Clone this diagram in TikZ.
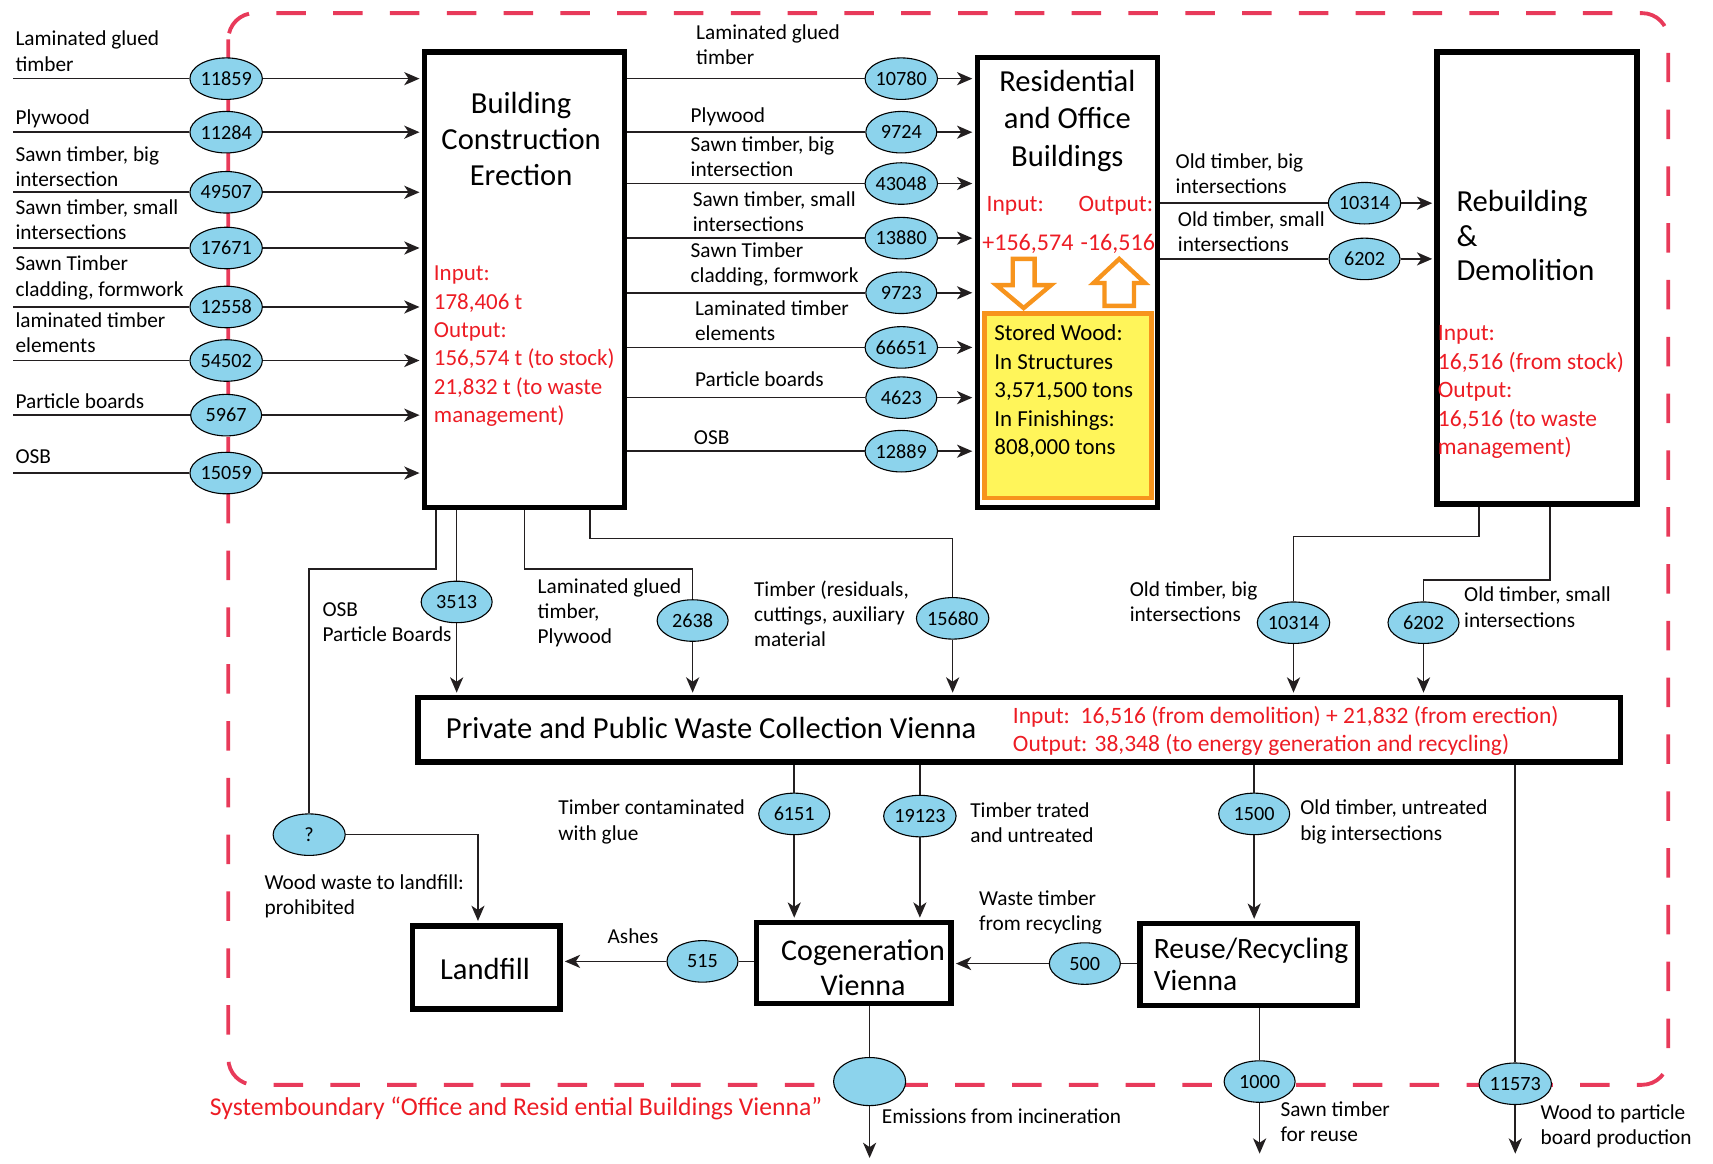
\documentclass[tikz,border=0pt]{standalone}
\usepackage{fontspec}
\setmainfont{Carlito}
\usetikzlibrary{shapes.geometric,arrows.meta,calc}
\definecolor{cyanfill}{RGB}{140,211,236}
\definecolor{redc}{RGB}{237,28,36}
\definecolor{bndc}{RGB}{232,58,90}
\definecolor{orangec}{RGB}{247,148,29}
\definecolor{yellowc}{RGB}{255,245,90}
\definecolor{linec}{RGB}{35,31,32}
\newcommand{\numfont}{\fontsize{18.5}{20}\selectfont}
\newcommand{\lblfont}{\fontsize{19.5}{23}\selectfont}
\newcommand{\redfont}{\fontsize{21}{26}\selectfont}
\newcommand{\ttlfont}{\fontsize{28}{33}\selectfont}
\begin{document}
\begin{tikzpicture}[x=1pt,y=-1pt,
  ln/.style={draw=linec, line width=1.5pt},
  arrw/.style={ln, -{Stealth[length=14pt,width=12pt,inset=4pt]}, shorten >=2pt},
  val/.style={ellipse, draw=black, line width=1pt, fill=cyanfill, minimum width=65pt, minimum height=38pt, inner sep=0pt, font=\numfont},
  proc/.style={draw=black, line width=5pt, fill=white, inner sep=0pt, rectangle},
  lbl/.style={align=left, inner sep=0pt, font=\lblfont, anchor=base west},
  redtxt/.style={align=left, inner sep=0pt, text=redc, font=\redfont, anchor=base west},
  ttl/.style={inner sep=0pt, font=\ttlfont, anchor=base},
  bnd/.style={draw=bndc, line width=3.5pt, dash pattern=on 27pt off 25pt, rounded corners=24pt},
  orng/.style={draw=orangec, line width=4pt, fill=white, line join=miter}
]
\useasboundingbox (0,0) rectangle (1568,1065);
% system boundary
\draw[bnd] (209,12) rectangle (1527,993);
\node[redtxt, font=\fontsize{23.5}{26}\selectfont] (sysb) at (192,1021) {Systemboundary “Office and Resid ential Buildings Vienna”};

% process boxes
\node[proc, minimum width=183pt, minimum height=417pt] (bce) at (480,256) {};
\node[proc, minimum width=165pt, minimum height=412pt] (rob) at (977,258.5) {};
\node[proc, minimum width=183pt, minimum height=414pt] (rd) at (1407,254.5) {};
\node[proc, minimum width=1101pt, minimum height=59pt] (waste) at (933,668) {};
\node[proc, minimum width=135pt, minimum height=76pt] (landfill) at (445,885.5) {};
\node[proc, minimum width=178pt, minimum height=74pt] (cogen) at (781.5,881.5) {};
\node[proc, minimum width=199pt, minimum height=75pt] (reuse) at (1143,883) {};
\node[draw=orangec, line width=4pt, fill=yellowc, minimum width=153pt, minimum height=169pt, inner sep=0pt] (store) at (977.5,371.5) {};

% titles (base anchor = baseline of the last line)
\node[ttl, align=center] (tbce) at (477,170) {Building\\Construction\\Erection};
\node[ttl, align=center, font=\fontsize{28}{34}\selectfont] (trob) at (977,152) {Residential\\and Office\\Buildings};
\node[ttl, align=left, anchor=base west, font=\fontsize{28}{31.5}\selectfont] (trd) at (1333,257) {Rebuilding\\\&\\Demolition};
\node[ttl, anchor=base west] (twaste) at (408,676) {Private and Public Waste Collection Vienna};
\node[ttl] (tlandfill) at (444,897) {Landfill};
\node[ttl, align=center, font=\fontsize{27.5}{32}\selectfont] (tcogen) at (790,911) {Cogeneration\\Vienna};
\node[ttl, align=left, anchor=base west, font=\fontsize{27}{30}\selectfont] (treuse) at (1056,907) {Reuse/Recycling\\Vienna};

% red texts
\node[redtxt] (rbce) at (397,387) {Input:\\178,406 t\\Output:\\156,574 t (to stock)\\21,832 t (to waste\\management)};
\node[redtxt, font=\fontsize{21.5}{26}\selectfont] (rrobi) at (903,194) {Input:};
\node[redtxt, font=\fontsize{21.5}{26}\selectfont] (rrobo) at (987,194) {Output:};
\node[redtxt, font=\fontsize{22}{26}\selectfont] (rrobin) at (899,229) {+156,574};
\node[redtxt, font=\fontsize{22}{26}\selectfont] (rrobout) at (989,229) {-16,516};
\node[redtxt, font=\fontsize{21.5}{26}\selectfont] (rrd) at (1316,416) {Input:\\16,516 (from stock)\\Output:\\16,516 (to waste\\management)};
\node[redtxt, font=\fontsize{21.5}{26}\selectfont] (rwaste) at (927,688) {Input:\ \ 16,516 (from demolition) + 21,832 (from erection)\\Output: 38,348 (to energy generation and recycling)};
\node[lbl, font=\fontsize{21}{26}\selectfont] (tstore) at (910,416) {Stored Wood:\\In Structures\\3,571,500 tons\\In Finishings:\\808,000 tons};

% orange stock arrows
\draw[orng] (927,237) -- (947,237) -- (947,261) -- (962,261) -- (937,282) -- (912,261) -- (927,261) -- cycle;
\draw[orng] (1024.5,237) -- (1048,259) -- (1038,259) -- (1038,280) -- (1011,280) -- (1011,259) -- (1001,259) -- cycle;

% left inputs
\foreach \i/\y/\v in {1/72/11859, 2/121/11284, 3/176/49507, 4/227/17671, 5/281/12558, 6/330/54502, 7/380/5967, 8/433/15059} {
  \coordinate (src\i) at (12,\y);
  \node[val] (li\i) at (207,\y) {\v};
  \draw[ln] (src\i) -- (li\i);
  \draw[arrw] (li\i) -- (li\i -| bce.west);
}
\node[lbl] (ll1) at (14,65) {Laminated glued\\timber};
\node[lbl] (ll2) at (14,114) {Plywood};
\node[lbl] (ll3) at (14,171) {Sawn timber, big\\intersection};
\node[lbl] (ll4) at (14,219) {Sawn timber, small\\intersections};
\node[lbl] (ll5) at (14,271) {Sawn Timber\\cladding, formwork};
\node[lbl] (ll6) at (14,323) {laminated timber\\elements};
\node[lbl] (ll7) at (14,374) {Particle boards};
\node[lbl] (ll8) at (14,424) {OSB};

% middle flows
\foreach \i/\y/\v in {1/72/10780, 2/121/9724, 3/168/43048, 4/218/13880, 5/268/9723, 6/318/66651, 7/364/4623, 8/413/12889} {
  \node[val] (mi\i) at (825,\y) {\v};
  \draw[ln] (mi\i -| bce.east) -- (mi\i);
  \draw[arrw] (mi\i) -- (mi\i -| rob.west);
}
\node[lbl] (ml1) at (637,59) {Laminated glued\\timber};
\node[lbl] (ml2) at (632,112) {Plywood};
\node[lbl] (ml3) at (632,162) {Sawn timber, big\\intersection};
\node[lbl] (ml4) at (634,212) {Sawn timber, small\\intersections};
\node[lbl] (ml5) at (632,259) {Sawn Timber\\cladding, formwork};
\node[lbl] (ml6) at (636,312) {Laminated timber\\elements};
\node[lbl] (ml7) at (636,354) {Particle boards};
\node[lbl] (ml8) at (635,407) {OSB};

% residential -> rebuilding
\node[val] (ri1) at (1249,186) {10314};
\node[val] (ri2) at (1249,237) {6202};
\draw[ln] (ri1 -| rob.east) -- (ri1);
\draw[arrw] (ri1) -- (ri1 -| rd.west);
\draw[ln] (ri2 -| rob.east) -- (ri2);
\draw[arrw] (ri2) -- (ri2 -| rd.west);
\node[lbl] (rl1) at (1076,177) {Old timber, big\\intersections};
\node[lbl] (rl2) at (1078,230) {Old timber, small\\intersections};

% building construction -> waste / landfill
\coordinate (bo1) at (399,467);
\coordinate (bo2) at (418,467);
\coordinate (bo4) at (540,467);
\node[val, minimum width=66pt, minimum height=38pt] (q) at (283,764) {?};
\draw[ln] (bo1) -- ++(0,54) -| (q);
\draw[arrw] (q.east) -| ([xshift=-7.5pt]landfill.north);
\node[lbl] (lq) at (242,837) {Wood waste to landfill:\\prohibited};

\node[val] (v3513) at (418,551) {3513};
\draw[ln] (bo2) -- (v3513);
\draw[arrw] (v3513) -- (v3513 |- waste.north);
\node[lbl] (l3513) at (295,587) {OSB\\Particle Boards};

\node[val] (v2638) at (634,568) {2638};
\draw[ln] (bce.south) -- ++(0,54) -| (v2638);
\draw[arrw] (v2638) -- (v2638 |- waste.north);
\node[lbl] (l2638) at (492,589) {Laminated glued\\timber,\\Plywood};

\node[val] (v15680) at (872,566) {15680};
\draw[ln] (bo4) -- ++(0,26) -| (v15680);
\draw[arrw] (v15680) -- (v15680 |- waste.north);
\node[lbl] (l15680) at (690,592) {Timber (residuals,\\cuttings, auxiliary\\material};

% rebuilding -> waste
\coordinate (bo5) at (1354,464);
\coordinate (bo6) at (1419,464);
\node[val] (w10314) at (1184,570) {10314};
\draw[ln] (bo5) -- ++(0,27) -| (w10314);
\draw[arrw] (w10314) -- (w10314 |- waste.north);
\node[lbl] (lw10314) at (1034,569) {Old timber, big\\intersections};
\node[val] (w6202) at (1303,570) {6202};
\draw[ln] (bo6) -- ++(0,67) -| (w6202);
\draw[arrw] (w6202) -- (w6202 |- waste.north);
\node[lbl] (lw6202) at (1340,574) {Old timber, small\\intersections};

% waste -> treatment
\node[val] (v6151) at (727,745) {6151};
\draw[ln] (v6151 |- waste.south) -- (v6151);
\draw[arrw] (v6151) -- (v6151 |- cogen.north);
\node[lbl] (l6151) at (511,769) {Timber contaminated\\with glue};

\node[val] (v19123) at (842,747) {19123};
\draw[ln] (v19123 |- waste.south) -- (v19123);
\draw[arrw] (v19123) -- (v19123 |- cogen.north);
\node[lbl] (l19123) at (888,771) {Timber trated\\and untreated};

\node[val] (v1500) at (1148,745) {1500};
\draw[ln] (v1500 |- waste.south) -- (v1500);
\draw[arrw] (v1500) -- (v1500 |- reuse.north);
\node[lbl] (l1500) at (1190,769) {Old timber, untreated\\big intersections};

\node[val] (v11573) at (1387,992) {11573};
\coordinate (out3) at (1387,1058);
\draw[ln] (v11573 |- waste.south) -- (v11573);
\draw[arrw] (v11573) -- (out3);
\node[lbl] (l11573) at (1410,1048) {Wood to particle\\board production};

% cogeneration / reuse flows
\node[val] (v515) at (643,880) {515};
\draw[ln] (v515 -| cogen.west) -- (v515);
\draw[arrw] (v515) -- (v515 -| landfill.east);
\node[lbl] (l515) at (556,864) {Ashes};

\node[val] (v500) at (993,882) {500};
\draw[ln] (v500 -| reuse.west) -- (v500);
\draw[arrw] (v500) -- (v500 -| cogen.east);
\node[lbl] (l500) at (896,852) {Waste timber\\from recycling};

\node[val, minimum width=66pt, minimum height=44pt] (vem) at (796,990) {};
\coordinate (out1) at (796,1062);
\draw[ln] (vem |- cogen.south) -- (vem);
\draw[arrw] (vem) -- (out1);
\node[lbl] (lem) at (807,1028) {Emissions from incineration};

\node[val] (v1000) at (1153,990) {1000};
\coordinate (out2) at (1153,1058);
\draw[ln] (v1000 |- reuse.south) -- (v1000);
\draw[arrw] (v1000) -- (out2);
\node[lbl] (l1000) at (1172,1045) {Sawn timber\\for reuse};
\end{tikzpicture}
\end{document}
